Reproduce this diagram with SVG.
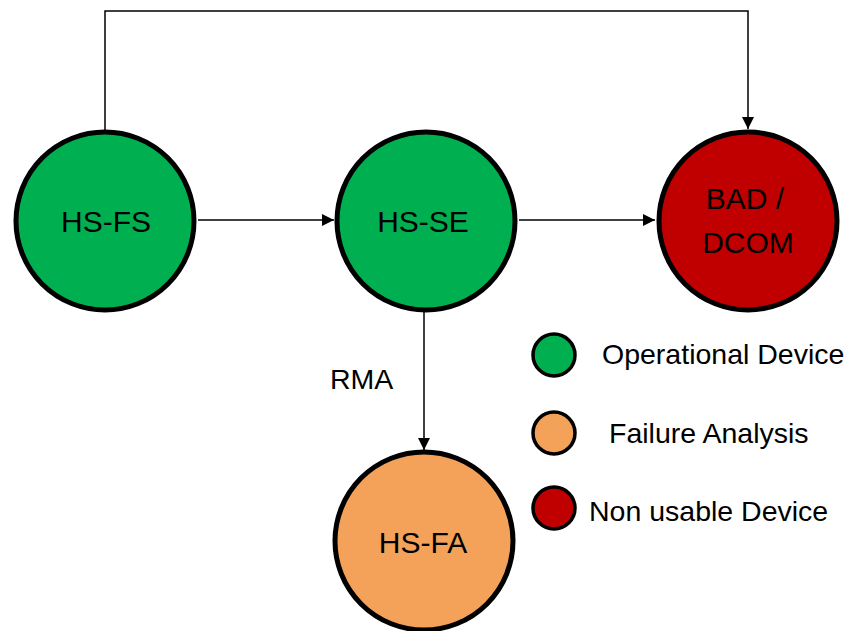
<svg xmlns="http://www.w3.org/2000/svg" width="850" height="631" viewBox="0 0 850 631">
  <style>
    .node { stroke: #000; stroke-width: 5; }
    .key { stroke: #000; stroke-width: 3.5; }
    .green { fill: #00B050; }
    .red { fill: #C00000; }
    .orange { fill: #F4A15A; }
    .lbl { font-family: "Liberation Sans", Arial, sans-serif; font-size: 30px; fill: #000; text-anchor: middle; }
    .txt { font-family: "Liberation Sans", Arial, sans-serif; font-size: 28.5px; fill: #000; }
    .wire { fill: none; stroke: #000; stroke-width: 1.5; }
  </style>
  <defs>
    <marker id="arrow" markerUnits="userSpaceOnUse" markerWidth="12" markerHeight="12" viewBox="0 0 12 12" refX="12" refY="6" orient="auto">
      <path d="M0,0 L12,6 L0,12 z" fill="#000"/>
    </marker>
  </defs>

  <!-- connectors -->
  <g id="connectors">
    <path class="wire" d="M105,130 V11 H748 V129" marker-end="url(#arrow)"/>
    <path class="wire" d="M198,220 H334" marker-end="url(#arrow)"/>
    <path class="wire" d="M519,220 H655" marker-end="url(#arrow)"/>
    <path class="wire" d="M424,312 V450" marker-end="url(#arrow)"/>
    <text class="txt" x="330" y="389">RMA</text>
  </g>

  <!-- state nodes -->
  <g id="hs-fs">
    <circle class="node green" cx="105" cy="221" r="89"/>
    <text class="lbl" x="106" y="232">HS-FS</text>
  </g>
  <g id="hs-se">
    <circle class="node green" cx="426" cy="221" r="89"/>
    <text class="lbl" x="423" y="232">HS-SE</text>
  </g>
  <g id="bad-dcom">
    <circle class="node red" cx="748" cy="221" r="89"/>
    <text class="lbl" x="745" y="209">BAD /</text>
    <text class="lbl" x="748" y="253">DCOM</text>
  </g>
  <g id="hs-fa">
    <circle class="node orange" cx="424" cy="541" r="89"/>
    <text class="lbl" x="423" y="553">HS-FA</text>
  </g>

  <!-- legend -->
  <g id="legend">
    <circle class="key green" cx="554" cy="355" r="21"/>
    <text class="txt" x="602" y="364">Operational Device</text>
    <circle class="key orange" cx="554" cy="433" r="21"/>
    <text class="txt" x="609" y="443">Failure Analysis</text>
    <circle class="key red" cx="554" cy="508" r="21"/>
    <text class="txt" x="589" y="521">Non usable Device</text>
  </g>
</svg>
